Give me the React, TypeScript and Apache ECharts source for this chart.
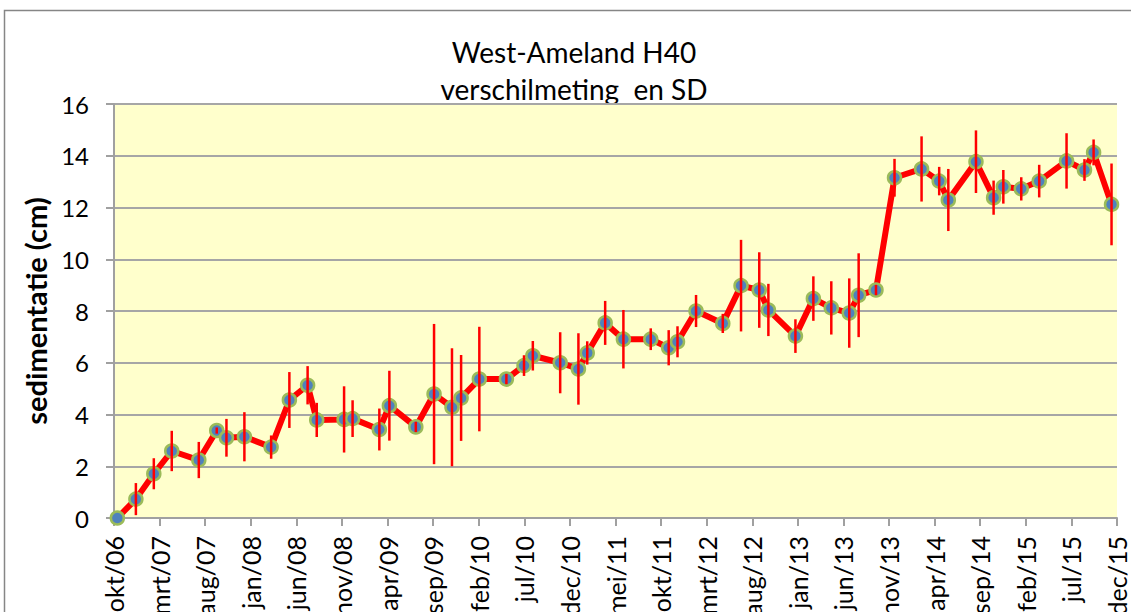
import React, { useEffect, useRef } from "react";
import * as echarts from "echarts";

const dates = [
  "2006-10-12", "2006-12-13", "2007-02-12", "2007-04-11", "2007-07-10", "2007-09-09",
  "2007-10-11", "2007-12-10", "2008-03-08", "2008-05-08", "2008-07-08", "2008-08-08",
  "2008-11-08", "2008-12-06", "2009-03-04", "2009-04-07", "2009-07-04", "2009-09-04",
  "2009-11-03", "2009-12-03", "2010-02-03", "2010-05-02", "2010-06-30", "2010-07-29",
  "2010-10-29", "2010-12-29", "2011-01-28", "2011-03-27", "2011-05-27", "2011-08-27",
  "2011-10-26", "2011-11-25", "2012-01-26", "2012-04-24", "2012-06-24", "2012-08-24",
  "2012-09-24", "2012-12-23", "2013-02-22", "2013-04-21", "2013-06-20", "2013-07-21",
  "2013-09-18", "2013-11-19", "2014-02-18", "2014-04-16", "2014-05-16", "2014-08-17",
  "2014-10-15", "2014-11-17", "2015-01-16", "2015-03-15", "2015-06-15", "2015-08-14",
  "2015-09-14", "2015-11-13",
];

const values = [
  0.0, 0.73, 1.71, 2.59, 2.24, 3.38,
  3.1, 3.14, 2.74, 4.56, 5.13, 3.79,
  3.81, 3.84, 3.42, 4.34, 3.52, 4.79,
  4.28, 4.64, 5.37, 5.37, 5.89, 6.27,
  6.0, 5.76, 6.38, 7.54, 6.91, 6.91,
  6.58, 6.81, 8.0, 7.52, 8.98, 8.81,
  8.04, 7.03, 8.48, 8.12, 7.92, 8.61,
  8.81, 13.15, 13.49, 13.02, 12.29, 13.77,
  12.38, 12.8, 12.72, 13.02, 13.8, 13.45,
  14.13, 12.12,
];

const sd = [
  0.0, 0.62, 0.6, 0.78, 0.7, 0.12,
  0.73, 0.95, 0.45, 1.08, 0.74, 0.66,
  1.28, 0.71, 0.81, 1.35, 0.2, 2.71,
  2.28, 1.66, 2.02, 0.2, 0.4, 0.57,
  1.18, 1.38, 0.45, 0.85, 1.13, 0.42,
  0.68, 0.6, 0.62, 0.37, 1.77, 1.46,
  1.01, 0.65, 0.86, 1.03, 1.34, 1.62,
  0.2, 0.73, 1.26, 0.55, 1.2, 1.21,
  0.66, 0.65, 0.45, 0.63, 1.07, 0.42,
  0.5, 1.58,
];

const tickLabels = [
  "okt/06", "mrt/07", "aug/07", "jan/08", "jun/08", "nov/08", "apr/09", "sep/09",
  "feb/10", "jul/10", "dec/10", "mei/11", "okt/11", "mrt/12", "aug/12", "jan/13",
  "jun/13", "nov/13", "apr/14", "sep/14", "feb/15", "jul/15", "dec/15",
];

const FONT = "Lato, 'Noto Sans', sans-serif";

function toMonths(d: string): number {
  const [y, m, dd] = d.split("-").map(Number);
  return (y - 2006) * 12 + (m - 10) + (dd - 1) / 30;
}

export default function App() {
  const ref = useRef<HTMLDivElement>(null);

  useEffect(() => {
    document.body.style.margin = "0";
    if (!ref.current) return;
    const chart = echarts.init(ref.current, undefined, { renderer: "svg" });

    const lineData = dates.map((d, i) => [toMonths(d), values[i]]);
    const errData = dates.map((d, i) => [toMonths(d), values[i] - sd[i], values[i] + sd[i]]);

    chart.setOption({
      animation: false,
      backgroundColor: "#ffffff",
      graphic: [
        {
          type: "rect",
          z: -10,
          shape: { x: 4.5, y: 10.5, width: 1300, height: 800 },
          style: { fill: "none", stroke: "#868686", lineWidth: 1.5 },
        },
        {
          type: "text",
          x: 574,
          y: 52,
          style: {
            text: "West-Ameland H40",
            font: `28px ${FONT}`,
            fill: "#000",
            align: "center",
            verticalAlign: "middle",
          },
        },
        {
          type: "text",
          x: 574,
          y: 89,
          style: {
            text: "verschilmeting  en SD",
            font: `28px ${FONT}`,
            fill: "#000",
            align: "center",
            verticalAlign: "middle",
          },
        },
      ],
      grid: {
        left: 114,
        right: 14,
        top: 104,
        bottom: 94,
        show: true,
        backgroundColor: "#FFFFCC",
        borderWidth: 0,
        containLabel: false,
        outerBoundsMode: "none",
      },
      xAxis: {
        type: "value",
        min: 0,
        max: 110,
        interval: 5,
        axisLine: { show: true, lineStyle: { color: "#A0A0A0", width: 2 } },
        axisTick: { show: true, length: 8, lineStyle: { color: "#A0A0A0", width: 2 } },
        splitLine: { show: false },
        axisLabel: {
          rotate: 90,
          margin: 18,
          fontSize: 25,
          fontFamily: FONT,
          color: "#000",
          showMinLabel: true,
          showMaxLabel: true,
          formatter: (v: number) => tickLabels[Math.round(v / 5)] ?? "",
        },
      },
      yAxis: {
        type: "value",
        min: 0,
        max: 16,
        interval: 2,
        name: "sedimentatie (cm)",
        nameLocation: "middle",
        nameGap: 63,
        nameTextStyle: { fontSize: 29, fontWeight: "bold", fontFamily: FONT, color: "#000" },
        axisLine: { show: true, lineStyle: { color: "#A0A0A0", width: 2 } },
        axisTick: { show: true, length: 8, lineStyle: { color: "#A0A0A0", width: 2 } },
        splitLine: { show: true, lineStyle: { color: "#A6A6A6", width: 2 } },
        axisLabel: { margin: 25, fontSize: 24, fontFamily: FONT, color: "#000" },
      },
      series: [
        {
          type: "line",
          data: lineData,
          z: 2,
          symbol: "circle",
          symbolSize: 13,
          lineStyle: { color: "#FF0000", width: 6 },
          itemStyle: { color: "#4F81BD", borderColor: "#9BBB59", borderWidth: 2.5 },
        },
        {
          type: "custom",
          z: 3,
          data: errData,
          encode: { x: 0, y: [1, 2] },
          renderItem: (_params: any, api: any) => {
            const x = api.value(0);
            const lo = api.coord([x, api.value(1)]);
            const hi = api.coord([x, api.value(2)]);
            return {
              type: "line",
              shape: { x1: lo[0], y1: lo[1], x2: hi[0], y2: hi[1] },
              style: { stroke: "#FF0000", lineWidth: 2.5 },
            };
          },
        },
      ],
    });

    return () => chart.dispose();
  }, []);

  return <div ref={ref} style={{ width: 1131, height: 612 }} />;
}
